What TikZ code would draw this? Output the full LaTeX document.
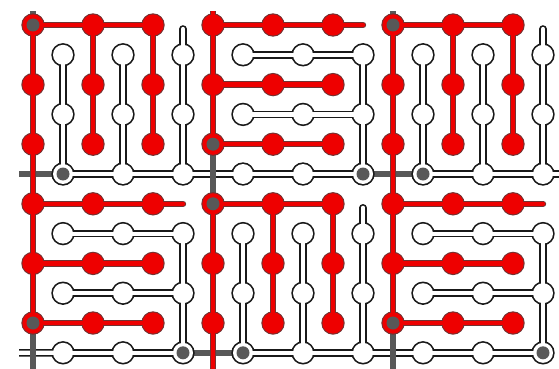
\documentclass[tikz,border=0pt]{standalone}
\usetikzlibrary{calc}
\definecolor{rd}{RGB}{238,0,0}
\definecolor{rdo}{RGB}{115,50,50}
\definecolor{gry}{RGB}{88,88,88}
\definecolor{blk}{RGB}{25,25,25}
\tikzset{
  tubeout/.style={draw=blk, line width=7.6pt, line cap=round},
  tubein/.style={draw=white, line width=4.2pt, line cap=round},
  redout/.style={draw=rdo, line width=6.4pt, line cap=round},
  redin/.style={draw=rd, line width=4.4pt, line cap=round},
  grayline/.style={draw=gry, line width=6pt},
}
\begin{document}
\begin{tikzpicture}[x=1pt,y=-1pt]
\useasboundingbox (0,0) rectangle (559,369);
\clip (19,12) rectangle (559,369);
\foreach \c in {0,...,17}{\foreach \r in {0,...,11}{
  \coordinate (p-\c-\r) at ({33+30*\c},{25+29.8*\r});}}
\coordinate (t0) at (33,0);
\coordinate (t6) at (213,0);
\coordinate (t12) at (393,0);
\coordinate (b0) at (33,385);
\coordinate (b6) at (213,385);
\coordinate (b12) at (393,385);
\coordinate (l5) at (0,174);
\coordinate (l11) at (0,352.8);
\coordinate (r5) at (580,174);
\coordinate (s5) at ($(p-5-0)+(0,4)$);
\coordinate (s17) at ($(p-17-0)+(0,4)$);
\coordinate (s11) at ($(p-11-6)+(0,4)$);
% gray lines between white roots
\draw[grayline] (p-1-5) -- (l5);
\draw[grayline] (p-11-5) -- (p-13-5);
\draw[grayline] (p-5-11) -- (p-7-11);
\draw[grayline] (p-0-0) -- (t0);
\draw[grayline] (p-12-0) -- (t12);
% white (dual) tree
\foreach \sty/\rad/\col in {tubeout/11.7/blk, tubein/10/white}{
  \foreach \a/\b in {p-1-1/p-1-5, p-3-1/p-3-5, s5/p-5-5, p-1-5/p-5-5,
     p-13-1/p-13-5, p-15-1/p-15-5, s17/p-17-5, p-13-5/p-17-5,
     p-7-7/p-7-11, p-9-7/p-9-11, s11/p-11-11, p-7-11/p-11-11,
     p-7-1/p-11-1, p-7-3/p-11-3, p-11-1/p-11-5, p-7-5/p-11-5,
     p-1-7/p-5-7, p-1-9/p-5-9, p-5-7/p-5-11, p-1-11/p-5-11,
     p-13-7/p-17-7, p-13-9/p-17-9, p-17-7/p-17-11, p-13-11/p-17-11,
     p-5-5/p-7-5, p-11-11/p-13-11, p-17-5/r5, p-1-11/l11}{
    \draw[\sty] (\a) -- (\b);}
  \foreach \c in {1,3,...,17}{\foreach \r in {1,3,...,11}{
    \fill[\col] (p-\c-\r) circle (\rad);}}
}
\foreach \n in {p-1-5, p-11-5, p-13-5, p-5-11, p-7-11, p-17-11}{
  \fill[gry] (\n) circle (6.5);}
% gray lines between red roots
\draw[grayline] (p-6-4) -- (p-6-6);
\draw[grayline] (p-0-10) -- (b0);
\draw[grayline] (p-12-10) -- (b12);
% red (primal) tree
\foreach \sty/\rad/\col in {redout/11.7/rdo, redin/10.6/rd}{
  \foreach \a/\b in {p-0-0/p-4-0, p-0-0/p-0-6, p-2-0/p-2-4, p-4-0/p-4-4,
     p-12-0/p-16-0, p-12-0/p-12-6, p-14-0/p-14-4, p-16-0/p-16-4,
     p-6-6/p-10-6, p-6-6/b6, p-8-6/p-8-10, p-10-6/p-10-10,
     t6/p-6-4, p-6-0/p-11-0, p-6-2/p-10-2, p-6-4/p-10-4,
     p-0-6/p-0-10, p-0-6/p-5-6, p-0-8/p-4-8, p-0-10/p-4-10,
     p-12-6/p-12-10, p-12-6/p-17-6, p-12-8/p-16-8, p-12-10/p-16-10}{
    \draw[\sty] (\a) -- (\b);}
  \foreach \c in {0,2,...,16}{\foreach \r in {0,2,...,10}{
    \fill[\col] (p-\c-\r) circle (\rad);}}
}
\foreach \n in {p-0-0, p-6-4, p-12-0, p-0-10, p-6-6, p-12-10}{
  \fill[gry] (\n) circle (6.5);}
\end{tikzpicture}
\end{document}
